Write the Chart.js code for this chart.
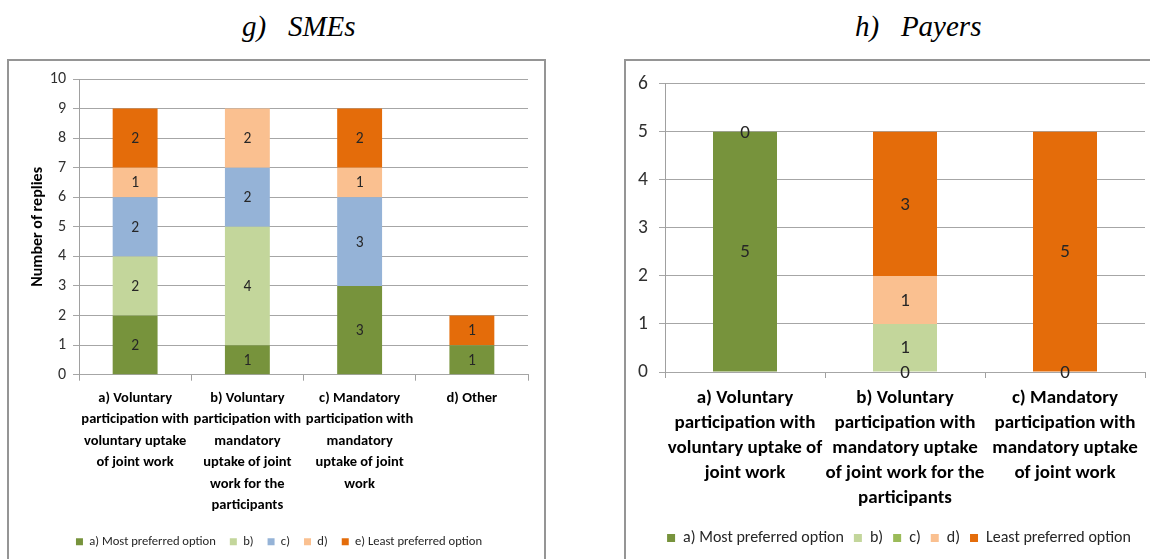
<!DOCTYPE html>
<html>
<head>
<meta charset="utf-8">
<script src="https://cdn.jsdelivr.net/npm/chart.js@4/dist/chart.umd.min.js"></script>
<style>
  html, body { margin:0; padding:0; background:#fff; overflow:hidden; width:1150px; height:559px; }
  .title { position:absolute; font-family:"Liberation Serif","Times New Roman",serif; font-style:italic; font-size:29px; line-height:29px; white-space:pre; color:#000; }
  .box { position:absolute; border:2px solid #959595; box-sizing:border-box; }
  canvas { position:absolute; }
</style>
</head>
<body>
<div class="title" style="left:242px; top:12px;">g)   SMEs</div>
<div class="title" style="left:855px; top:12px;">h)   Payers</div>
<div class="box" style="left:7px; top:59px; width:539px; height:520px;"></div>
<div class="box" style="left:624px; top:59px; width:600px; height:520px;"></div>
<canvas id="sme" width="535" height="498" style="left:9px; top:61px;"></canvas>
<canvas id="payers" width="546" height="498" style="left:626px; top:61px;"></canvas>
<script>
// ---- data: g) SMEs ----
const smeCategories = [
  ['a) Voluntary', 'participation with', 'voluntary uptake', 'of joint work'],
  ['b) Voluntary', 'participation with', 'mandatory', 'uptake of joint', 'work for the', 'participants'],
  ['c) Mandatory', 'participation with', 'mandatory', 'uptake of joint', 'work'],
  ['d) Other']
];
const smeLegend = ['a) Most preferred option', 'b)', 'c)', 'd)', 'e) Least preferred option'];
const smeMost  = [2, 1, 3, 1];
const smeB     = [2, 4, 0, 0];
const smeC     = [2, 2, 3, 0];
const smeD     = [1, 2, 1, 0];
const smeLeast = [2, 0, 2, 1];
const smeMax = 10;

// ---- data: h) Payers ----
const payerCategories = [
  ['a) Voluntary', 'participation with', 'voluntary uptake of', 'joint work'],
  ['b) Voluntary', 'participation with', 'mandatory uptake', 'of joint work for the', 'participants'],
  ['c) Mandatory', 'participation with', 'mandatory uptake', 'of joint work']
];
const payerLegend = ['a) Most preferred option', 'b)', 'c)', 'd)', 'Least preferred option'];
// null = no label shown in the original
const payerMost  = [5, 0, 0];
const payerB     = [null, 1, null];
const payerC     = [null, null, null];
const payerD     = [null, 1, null];
const payerLeast = [0, 3, 5];
const payerMax = 6;

const smeColors   = ['#77933C', '#C3D69B', '#95B3D7', '#FAC090', '#E46C0A'];
const payerColors = ['#77933C', '#C3D69B', '#9BBB59', '#FAC090', '#E46C0A'];

// labels in the middle of each stacked segment
const segLabels = {
  id: 'segLabels',
  afterDatasetsDraw(chart, args, opts) {
    const ctx = chart.ctx;
    ctx.save();
    ctx.font = opts.font;
    ctx.fillStyle = opts.color;
    ctx.textAlign = 'center';
    ctx.textBaseline = 'middle';
    chart.data.datasets.forEach((ds, i) => {
      const meta = chart.getDatasetMeta(i);
      meta.data.forEach((bar, j) => {
        const v = ds.data[j];
        if (v === null || v === undefined) return;
        if (v === 0 && !opts.showZero) return;
        const p = bar.getProps(['x', 'y', 'base'], true);
        ctx.fillText(String(v), p.x, (p.y + p.base) / 2 + 1);
      });
    });
    ctx.restore();
  }
};

// nudge the bottom legend sideways (the y labels need the room on the left)
const legendShift = {
  id: 'legendShift',
  afterLayout(chart, args, opts) {
    const dx = opts.dx || 0;
    if (chart.legend && dx) { chart.legend.left += dx; chart.legend.right += dx; }
  }
};

function makeDatasets(names, series, colors){
  return series.map((data, i)=>({ label: names[i], data, backgroundColor: colors[i], borderWidth: 0 }));
}

function makeChart(id, cfg){
  return new Chart(document.getElementById(id), {
    type: 'bar',
    data: { labels: cfg.labels, datasets: cfg.datasets },
    plugins: [segLabels, legendShift],
    options: {
      responsive: false,
      animation: false,
      devicePixelRatio: 1,
      layout: { padding: cfg.padding },
      datasets: { bar: { barPercentage: 0.4, categoryPercentage: 1 } },
      plugins: {
        tooltip: { enabled: false },
        legend: {
          position: 'bottom',
          labels: {
            boxWidth: cfg.box, boxHeight: cfg.box, padding: cfg.legendPad,
            color: '#262626', font: { family: 'Carlito', size: cfg.legendSize }
          }
        },
        legendShift: { dx: cfg.legendDx },
        segLabels: { font: cfg.valueFont, color: '#262626', showZero: cfg.showZero }
      },
      scales: {
        x: {
          stacked: true,
          grid: { drawOnChartArea: false, drawTicks: true, tickLength: 6, color: '#a0a0a0', offset: true },
          border: { color: '#a6a6a6' },
          ticks: {
            color: '#000', maxRotation: 0, minRotation: 0, autoSkip: false, padding: cfg.xPad,
            font: { family: 'Carlito', weight: 'bold', size: cfg.xSize, lineHeight: cfg.xLine / cfg.xSize }
          },
          afterFit(s){ s.height = cfg.xHeight; }
        },
        y: {
          stacked: true, min: 0, max: cfg.max,
          ticks: { stepSize: 1, padding: cfg.yPad, color: '#303030', font: { family: 'Carlito', size: cfg.ySize } },
          grid: { color: '#a6a6a6', tickLength: 6, drawTicks: true },
          border: { color: '#a0a0a0' },
          title: cfg.yTitle,
          afterFit(s){ s.width = cfg.yWidth; }
        }
      }
    }
  });
}

makeChart('sme', {
  labels: smeCategories,
  datasets: makeDatasets(smeLegend, [smeMost, smeB, smeC, smeD, smeLeast], smeColors),
  max: smeMax,
  padding: { top: 18, left: 21, right: 16, bottom: 1 },
  box: 7, legendPad: 14, legendSize: 12.6, legendDx: 0,
  valueFont: '15.5px Carlito', showZero: false,
  xPad: 6.5, xSize: 14.5, xLine: 21.5, xHeight: 146.7,
  yPad: 7, ySize: 16, yWidth: 49,
  yTitle: { display: true, text: 'Number of replies', color: '#000', padding: 0,
            font: { family: 'Carlito', weight: 'bold', size: 16, lineHeight: 0.95 } }
});

makeChart('payers', {
  labels: payerCategories,
  datasets: makeDatasets(payerLegend, [payerMost, payerB, payerC, payerD, payerLeast], payerColors),
  max: payerMax,
  padding: { top: 21, left: 0, right: 27, bottom: 3 },
  box: 8, legendPad: 10, legendSize: 16, legendDx: 13.5,
  valueFont: '19px Carlito', showZero: true,
  xPad: 7.5, xSize: 19, xLine: 25, xHeight: 148,
  yPad: 11, ySize: 19.5, yWidth: 39,
  yTitle: { display: false }
});
</script>
</body>
</html>
